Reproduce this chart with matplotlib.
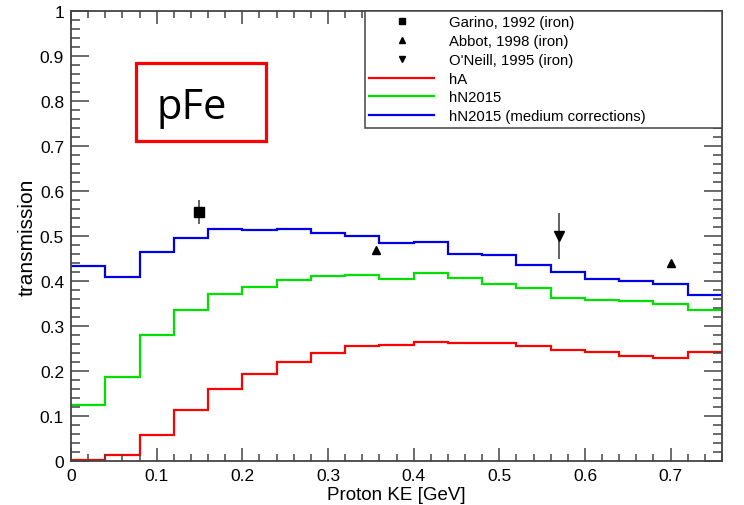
import matplotlib
matplotlib.use('Agg')
import matplotlib.pyplot as plt
from matplotlib.patches import Rectangle
from matplotlib.lines import Line2D
from matplotlib.ticker import MultipleLocator, FuncFormatter
import numpy as np

plt.rcParams['font.family'] = ['Liberation Sans', 'DejaVu Sans']

# Bin edges (GeV), 0.04 GeV wide bins
bin_edges = np.linspace(0.0, 0.76, 20)

# Transmission per bin
hA = [0.003, 0.013, 0.058, 0.113, 0.161, 0.193, 0.219, 0.241, 0.255, 0.258,
      0.265, 0.263, 0.263, 0.256, 0.247, 0.243, 0.233, 0.228, 0.243]
hN2015 = [0.124, 0.187, 0.279, 0.336, 0.372, 0.387, 0.402, 0.412, 0.414, 0.404,
          0.417, 0.407, 0.394, 0.385, 0.362, 0.358, 0.355, 0.348, 0.336]
hN2015_med = [0.434, 0.410, 0.465, 0.496, 0.515, 0.513, 0.516, 0.507, 0.501, 0.484,
              0.487, 0.461, 0.457, 0.436, 0.419, 0.404, 0.399, 0.394, 0.370]

# Data points
garino_x = [0.15]
garino_y = [0.553]
garino_err = [0.026]
abbot_x = [0.356, 0.701]
abbot_y = [0.470, 0.439]
oneill_x = [0.5695]
oneill_y = [0.500]
oneill_err = [0.052]

fig = plt.figure(figsize=(7.44, 5.06), dpi=100)
ax = fig.add_axes([71 / 744, 44 / 506, 651 / 744, 450 / 506])

ax.stairs(hA, bin_edges, baseline=None, color='#ff0000', lw=1.6)
ax.stairs(hN2015, bin_edges, baseline=None, color='#00e000', lw=1.6)
ax.stairs(hN2015_med, bin_edges, baseline=None, color='#0000e6', lw=1.6)

ax.errorbar(garino_x, garino_y, yerr=garino_err, fmt='s', color='black', ms=6.5,
            ecolor='#555555', elinewidth=1.3, capsize=0, zorder=5)
ax.plot(abbot_x, abbot_y, '^', color='black', ms=5.5, ls='none', zorder=5)
ax.errorbar(oneill_x, oneill_y, yerr=oneill_err, fmt='v', color='black', ms=6.5,
            ecolor='#555555', elinewidth=1.3, capsize=0, zorder=5)

ax.set_xlim(0, 0.76)
ax.set_ylim(0, 1)
ax.xaxis.set_major_locator(MultipleLocator(0.1))
ax.xaxis.set_minor_locator(MultipleLocator(0.02))
ax.yaxis.set_major_locator(MultipleLocator(0.1))
ax.yaxis.set_minor_locator(MultipleLocator(0.02))
ax.xaxis.set_major_formatter(FuncFormatter(lambda v, p: '%g' % round(v, 2)))
ax.yaxis.set_major_formatter(FuncFormatter(lambda v, p: '%g' % round(v, 2)))

ax.tick_params(axis='both', which='both', direction='in', top=True, right=True,
               color='#444444', labelsize=12.5, pad=5)
ax.tick_params(axis='x', which='major', length=9.5, width=1.1)
ax.tick_params(axis='x', which='minor', length=4.8, width=1.1)
ax.tick_params(axis='y', which='major', length=13, width=1.1)
ax.tick_params(axis='y', which='minor', length=6.5, width=1.1)
for s in ax.spines.values():
    s.set_color('#444444')
    s.set_linewidth(1.3)

ax.set_xlabel('Proton KE [GeV]', fontsize=13.5, labelpad=2)
ax.set_ylabel('transmission', fontsize=15, labelpad=2)

handles = [
    Line2D([], [], marker='s', color='black', ls='none', ms=5),
    Line2D([], [], marker='^', color='black', ls='none', ms=4.5),
    Line2D([], [], marker='v', color='black', ls='none', ms=5),
    Line2D([], [], color='#ff0000', lw=1.6),
    Line2D([], [], color='#00e000', lw=1.6),
    Line2D([], [], color='#0000e6', lw=1.6),
]
labels = ['Garino, 1992 (iron)', 'Abbot, 1998 (iron)', "O'Neill, 1995 (iron)",
          'hA', 'hN2015', 'hN2015 (medium corrections)']
leg = ax.legend(handles, labels,
                loc='upper left', bbox_to_anchor=(0.451, 1.0, 0.549, 0.0),
                mode='expand', borderaxespad=0, fancybox=False, framealpha=1,
                edgecolor='#444444', fontsize=10.7, handlelength=4.4,
                handletextpad=1.0, labelspacing=0.32, borderpad=0.3)
leg.get_frame().set_linewidth(1.1)

# label box
ax.add_patch(Rectangle((65 / 651, 320 / 450), 130 / 651, 78 / 450,
                       transform=ax.transAxes, fill=False, ec='#ff0000', lw=2.3,
                       zorder=6))
ax.text(86 / 651, 354 / 450, 'pFe', transform=ax.transAxes, fontsize=30,
        family=['Open Sans', 'DejaVu Sans'], va='center', ha='left')

fig.savefig('out.png', dpi=100)
